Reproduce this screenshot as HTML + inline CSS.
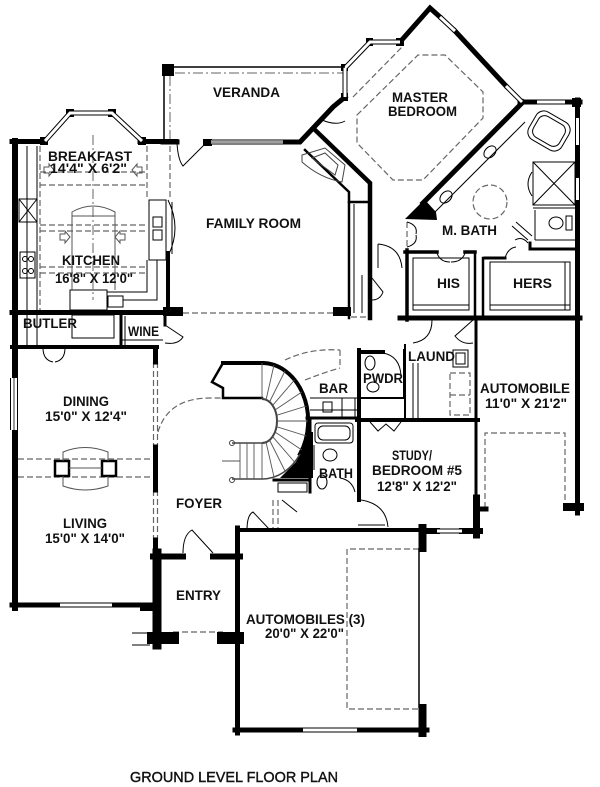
<!DOCTYPE html>
<html><head><meta charset="utf-8"><style>
html,body{margin:0;padding:0;background:#fff;}
svg{display:block}
text{font-family:"Liberation Sans",Arial,sans-serif;font-weight:bold;fill:#111;font-size:13.5px;}
</style></head><body>
<svg width="600" height="787" viewBox="0 0 600 787" xmlns="http://www.w3.org/2000/svg">
<rect width="600" height="787" fill="#fff"/>

<!-- dashed gray lines -->
<g fill="none" stroke="#666" stroke-width="1.2" stroke-dasharray="6,3">
  <path d="M40,146 V310 M147,146 V200 M170,146 V200"/>
  <path d="M40,172 H147 M40,185 H147 M40,225 H147 M40,231 H147 M40,267 H147 M40,273 H147"/>
  <path d="M183,313 H334 M351,317 H370"/>
  <path d="M357,115 L418,55 H445 L483,92 V118 L423,180 H393 L357,143 Z"/>
  <path d="M353,97 L402,47"/>
  <path d="M18,459 H153 M18,477 H153"/>
  <path d="M153.5,362 V447 M157.5,362 V447 M153.5,490 V540 M157.5,490 V540"/>
  <path d="M158,432 Q168,398 210,398 H223"/>
  <path d="M285,360 Q310,348 340,350 M305,380 Q325,372 340,368 M340,350 V368"/>
  <circle cx="490" cy="202" r="17"/>
  <path d="M173,632 H223"/>
  <path d="M419,549 H347 V709 H419"/>
  <path d="M485,508 V433 H565 V508"/>
  <path d="M450,373 H470 V415 H450 Z M450,395 H470"/>
  <path d="M273,500 V530 M278,500 V530"/>
  <path d="M407,222 V250"/>
</g>
<g fill="none" stroke="#666" stroke-width="1" stroke-dasharray="10,3,2,3">
  <path d="M170,140 V73 H343"/>
  <path d="M93,135 V300"/>
</g>

<!-- thick walls -->
<g fill="none" stroke="#000" stroke-linecap="square">
  <path d="M15,141 V608" stroke-width="6"/>
  <path d="M12,141.5 H45 M140,141.5 H176 M163,142 H177" stroke-width="5"/>
  <path d="M283,142 H300 L333,107 L345,97" stroke-width="5"/>
  <path d="M400,42 L430,8 L440,17 M455,31 L506,86" stroke-width="5"/>
  <path d="M520,102 H537 M565,102 H580" stroke-width="5"/>
  <path d="M577.5,100 V513" stroke-width="5"/>
  <path d="M313,128 L370,183 V318" stroke-width="4.5"/>
  <path d="M523,102 L423,203" stroke-width="5"/>
  <path d="M12,312.5 H170" stroke-width="5"/>
  <path d="M12,347 H157" stroke-width="4"/>
  <path d="M12,605 H155" stroke-width="5"/>
  <path d="M155.5,348 V362 M155.5,447 V490 M155.5,540 V605" stroke-width="5"/>
  <path d="M157,553 V645" stroke-width="9"/>
  <path d="M153,556.5 H183 M213,556.5 H240" stroke-width="6"/>
  <path d="M237.5,528 V733" stroke-width="5"/>
  <path d="M235,730 H427" stroke-width="5"/>
  <path d="M237,530 H423" stroke-width="4"/>
  <path d="M422.5,528 V548 M422.5,708 V733" stroke-width="8"/>
  <path d="M423,531 H437 M462,531 H480" stroke-width="6"/>
  <path d="M476.5,498 V535" stroke-width="7"/>
  <path d="M153,638 H173 M223,638 H238" stroke-width="12"/>
  <path d="M400,318 H580" stroke-width="5"/>
  <path d="M357,420 H478" stroke-width="4"/>
  <path d="M359,350 V500" stroke-width="4"/>
  <path d="M359,352 H383" stroke-width="4"/>
  <path d="M310,418 V492" stroke-width="3"/>
  <path d="M307,418 H357" stroke-width="3"/>
  <path d="M476,318 V500" stroke-width="3"/>
  <path d="M407,250 V320" stroke-width="3.5"/>
  <path d="M405,252 H437 M465,252 H475" stroke-width="3.5"/>
  <path d="M475,252 V318 M483,258 V318" stroke-width="2.5"/>
  <path d="M485,258 H505 M530,243 V249 H577" stroke-width="3"/>
  <path d="M349,202 V318" stroke-width="2.5"/>
  <path d="M305,150 L349,192 V202 H370" stroke-width="2.5"/>
  <path d="M168,253 V312" stroke-width="4"/>
  <path d="M121,313 V347 M165,313 V325" stroke-width="3"/>
  <path d="M405,345 V420" stroke-width="2"/>
  <path d="M404,350 V398 M358,398 H405" stroke-width="2"/>
  <path d="M262,363 A46,58 0 0,1 300,454" stroke-width="4"/>
  <path d="M223,363 H262" stroke-width="4"/>
  <path d="M223,363 L212,382 L223,388 V398 H262" stroke-width="2.5"/>
  <path d="M567,507 H580" stroke-width="8"/>
  <path d="M478,509 H486" stroke-width="5"/>
  <path d="M274,480 H310" stroke-width="3"/>
</g>

<!-- black posts/fills -->
<g fill="#000">
  <rect x="162" y="64" width="12" height="12"/>
  <rect x="203" y="139" width="9" height="7"/>
  <rect x="40" y="137" width="8" height="8"/>
  <rect x="138" y="137" width="8" height="8"/>
  <rect x="66" y="109" width="8" height="8"/>
  <rect x="108" y="109" width="8" height="8"/>
  <rect x="341" y="93" width="7" height="8"/>
  <rect x="341" y="64" width="7" height="7"/>
  <rect x="366" y="38" width="7" height="8"/>
  <rect x="396" y="38" width="8" height="8"/>
  <rect x="163" y="307" width="20" height="9"/>
  <rect x="333" y="307" width="18" height="9"/>
  <rect x="572" y="98" width="9" height="9"/>
  <polygon points="405,219 421,203 425,200 436,212 437,220"/>
  <polygon points="308,432 313,432 313,478 280,478 296,462"/>
  <rect x="140" y="604" width="14" height="7"/>
</g>

<!-- windows (double lines) -->
<g fill="none" stroke-linecap="butt">
  <g stroke="#000" stroke-width="5">
    <path d="M45,141 L70,113 H112 L142,141"/>
    <path d="M211,142 H283"/>
    <path d="M345,97 V68 L370,42 H400"/>
    <path d="M440,17 L455,31"/>
    <path d="M506,86 L522,102"/>
    <path d="M537,102 H565"/>
    <path d="M577.5,118 V145 M577.5,178 V200"/>
    <path d="M60,605 H112"/>
    <path d="M14,378 V430" stroke-width="8"/>
    <path d="M303,730 H357"/>
    <path d="M437,531 H462"/>
  </g>
  <g stroke="#fff" stroke-width="3">
    <path d="M45,141 L70,113 H112 L142,141"/>
    <path d="M211,142 H283"/>
    <path d="M345,97 V68 L370,42 H400"/>
    <path d="M440,17 L455,31"/>
    <path d="M506,86 L522,102"/>
    <path d="M537,102 H565"/>
    <path d="M577.5,118 V145 M577.5,178 V200"/>
    <path d="M60,605 H112"/>
    <path d="M14,378 V430" stroke-width="6"/>
    <path d="M303,730 H357"/>
    <path d="M437,531 H462"/>
  </g>
  <g stroke="#000" stroke-width="0.8">
    <path d="M14,378 V430 M211,142 H283"/>
  </g>
</g>

<!-- thin lines: veranda, fixtures, doors -->
<g fill="none" stroke="#000" stroke-width="1">
  <path d="M164,140 V67 H345" stroke-width="1.5"/>
  <!-- doors -->
  <path d="M177,143 Q178,160 183,166 L204,145"/>
  <path d="M336,106 L322,120 Q336,126 345,121"/>
  <path d="M378,244 Q400,246 402,268 M378,244 V268"/>
  <path d="M372,278 L383,292 Q380,300 372,300"/>
  <path d="M407,222 Q418,225 416,234 M407,247 Q418,244 416,235"/>
  <path d="M437,253 Q440,262 450,262 M465,253 Q462,262 451,262"/>
  <path d="M505,258 Q508,248 516,247 M528,243 Q522,236 515,240"/>
  <path d="M43,348 Q43,360 53,362 M65,348 Q65,360 55,362"/>
  <path d="M165,325 L183,337 Q178,345 165,343"/>
  <path d="M473,320 L455,336 Q462,345 473,343"/>
  <path d="M432,320 Q432,340 413,343"/>
  <path d="M383,353 Q400,356 401,376"/>
  <path d="M370,422 L378,431 L386,424 L394,431 L401,422"/>
  <path d="M361,500 Q386,504 388,527 M358,525 H385"/>
  <path d="M340,478 Q352,480 355,492"/>
  <path d="M183,553 Q183,535 192,530 L213,553"/>
  <path d="M247,530 Q247,515 253,512 L270,530"/>
  <path d="M282,500 L297,512"/>
  <path d="M532,172 Q524,184 532,196"/>
  <!-- kitchen -->
  <path d="M27,146 V345 M37,146 V345"/>
  <rect x="19" y="199" width="18" height="23"/>
  <path d="M19,199 L37,222 M37,199 L19,222"/>
  <rect x="20" y="252" width="15" height="26"/>
  <circle cx="25" cy="259" r="2.5"/><circle cx="31" cy="259" r="2.5"/>
  <circle cx="25" cy="271" r="2.5"/><circle cx="31" cy="271" r="2.5"/>
  <rect x="149" y="200" width="17" height="60"/>
  <rect x="153" y="217" width="9" height="10"/>
  <rect x="153" y="230" width="9" height="10"/>
  <path d="M147,260 V292 H107 M157,260 V300 H123"/>
  <path d="M168,200 Q182,228 168,256 M172,202 V254"/>
  <rect x="70" y="290" width="37" height="20"/>
  <rect x="108" y="296" width="15" height="11"/>
  <path d="M72,290 V212 Q93,200 115,212 V290" stroke="#555"/>
  <path d="M72,216 H115" stroke="#555"/>
  <!-- arrows -->
  <path d="M44,167 H49 V164 L54,170 L49,176 V173 H44 Z M142,167 H137 V164 L132,170 L137,176 V173 H142 Z" stroke="#555"/>
  <path d="M60,234 H65 V231 L70,237 L65,243 V240 H60 Z M125,234 H120 V231 L115,237 L120,243 V240 H125 Z" stroke="#555"/>
  <!-- butler / wine -->
  <rect x="72" y="315" width="42" height="23"/>
  <path d="M121,340 H163 M125,316 V346"/>
  <!-- dining/living fireplace -->
  <rect x="55" y="461" width="14" height="15" stroke-width="2.5"/>
  <rect x="102" y="461" width="14" height="15" stroke-width="2.5"/>
  <path d="M63,461 V452 Q85,443 108,452 V461 M63,476 V486 Q85,494 108,486 V476" stroke="#555"/>
  <path d="M69,468 H102" stroke="#555"/>
  <!-- master bath -->
  <path d="M525,122 L432,215"/>
  <ellipse cx="490" cy="152" rx="7" ry="5" transform="rotate(-45 490 152)"/>
  <ellipse cx="446" cy="197" rx="7" ry="5" transform="rotate(-45 446 197)"/>
  <rect x="530" y="115" width="38" height="32" rx="9" transform="rotate(30 549 131)"/>
  <rect x="534" y="119" width="30" height="24" rx="7" transform="rotate(30 549 131)"/>
  <rect x="533" y="162" width="42" height="43"/>
  <path d="M533,162 L575,205 M575,162 L533,205"/>
  <path d="M533,208 H575 M535,210 V240 M535,240 H575"/>
  <ellipse cx="556" cy="223" rx="7" ry="6"/>
  <rect x="566" y="216" width="6" height="14"/>
  <path d="M512,226 L528,240 M516,222 L532,236"/>
  <!-- his/hers closets -->
  <rect x="413" y="258" width="56" height="52"/>
  <rect x="490" y="262" width="80" height="48"/>
  <path d="M565,262 V310 M490,305 H570 M413,305 H469"/>
  <!-- fireplace hearth -->
  <path d="M302,155 L325,148 L345,165 L342,182 Q320,178 302,162 Z" stroke="#444"/>
  <path d="M312,158 L325,153 L338,165 L335,175 Z" stroke="#444"/>
  <path d="M354,204 V313 M362,275 V313"/>
  <!-- stair -->
  <path d="M262,399 A15,22 0 0,1 262,443" stroke="#444" stroke-width="2"/>
  <path d="M300,454 A46,58 0 0,1 262,479" stroke="#444" stroke-width="1.5"/>
  <path d="M262,443 H232 M262,479 H232" stroke="#444" stroke-width="1.5"/>
  <circle cx="232" cy="443" r="2.5" stroke="#444"/>
  <circle cx="232" cy="480" r="2.5" stroke="#444"/>
  <g stroke="#555" stroke-width="0.9">
    <path d="M262,399 L262,363 M266,400 L274,365 M269.5,402 L285,371 M272.6,405.4 L294.5,380 M275,410 L301.8,392 M276.5,415.3 L306.4,406 M277,421 L308,421 M276.5,426.7 L306.4,436 M275,432 L301.8,450 M272.6,436.6 L294.5,462 M269.5,440 L285,471 M266,442 L274,477 M262,443 L262,479"/>
    <path d="M240,443 V479 M247,443 V479 M254,443 V479 M222,461 H240"/>
  </g>
  <!-- bar -->
  <path d="M310,398 H357 M310,410 H357"/>
  <rect x="323" y="402" width="9" height="10"/>
  <rect x="342" y="398" width="13" height="19"/>
  <!-- pwdr -->
  <ellipse cx="370" cy="363" rx="5" ry="7"/>
  <ellipse cx="373" cy="387" rx="6" ry="5"/>
  <!-- bath -->
  <rect x="315" y="423" width="38" height="20" rx="3"/>
  <rect x="318" y="426" width="32" height="14" rx="5"/>
  <ellipse cx="330" cy="455" rx="7" ry="6"/>
  <ellipse cx="322" cy="482" rx="5" ry="7"/>
  <path d="M314,445 V470"/>
  <!-- laundry -->
  <path d="M413,363 V418 M418,363 V418"/>
  <rect x="453" y="350" width="15" height="17"/>
  <rect x="456" y="353" width="9" height="11"/>
  <!-- under stair closet -->
  <rect x="278" y="483" width="29" height="9"/>
  <!-- entry left bits -->
  <path d="M132,633 H150 M132,645 H150"/>
  <path d="M419,548 V708" stroke-width="1.5"/>
</g>

<!-- labels -->
<g>
  <text x="213" y="97" textLength="67" lengthAdjust="spacingAndGlyphs">VERANDA</text>
  <text x="392" y="102" textLength="56" lengthAdjust="spacingAndGlyphs">MASTER</text>
  <text x="388" y="116" textLength="69" lengthAdjust="spacingAndGlyphs">BEDROOM</text>
  <text x="48" y="161" textLength="84" lengthAdjust="spacingAndGlyphs">BREAKFAST</text>
  <text x="50" y="173" textLength="77" lengthAdjust="spacingAndGlyphs">14'4" X 6'2"</text>
  <text x="62" y="265" textLength="58" lengthAdjust="spacingAndGlyphs">KITCHEN</text>
  <text x="55" y="283" textLength="78" lengthAdjust="spacingAndGlyphs">16'8" X 12'0"</text>
  <text x="206" y="228" textLength="95" lengthAdjust="spacingAndGlyphs">FAMILY ROOM</text>
  <text x="442" y="235" textLength="55" lengthAdjust="spacingAndGlyphs">M. BATH</text>
  <text x="437" y="288" textLength="23" lengthAdjust="spacingAndGlyphs">HIS</text>
  <text x="513" y="288" textLength="39" lengthAdjust="spacingAndGlyphs">HERS</text>
  <text x="23" y="328" textLength="54" lengthAdjust="spacingAndGlyphs">BUTLER</text>
  <text x="128" y="336" textLength="31" lengthAdjust="spacingAndGlyphs">WINE</text>
  <text x="63" y="406" textLength="46" lengthAdjust="spacingAndGlyphs">DINING</text>
  <text x="45" y="421" textLength="82" lengthAdjust="spacingAndGlyphs">15'0" X 12'4"</text>
  <text x="63" y="528" textLength="44" lengthAdjust="spacingAndGlyphs">LIVING</text>
  <text x="45" y="543" textLength="80" lengthAdjust="spacingAndGlyphs">15'0" X 14'0"</text>
  <text x="176" y="508" textLength="46" lengthAdjust="spacingAndGlyphs">FOYER</text>
  <text x="176" y="600" textLength="45" lengthAdjust="spacingAndGlyphs">ENTRY</text>
  <text x="319" y="393" textLength="29" lengthAdjust="spacingAndGlyphs">BAR</text>
  <text x="363" y="383" textLength="40" lengthAdjust="spacingAndGlyphs">PWDR</text>
  <text x="408" y="361" textLength="47" lengthAdjust="spacingAndGlyphs">LAUND</text>
  <text x="480" y="393" textLength="90" lengthAdjust="spacingAndGlyphs">AUTOMOBILE</text>
  <text x="485" y="408" textLength="82" lengthAdjust="spacingAndGlyphs">11'0" X 21'2"</text>
  <text x="392" y="460" textLength="40" lengthAdjust="spacingAndGlyphs">STUDY/</text>
  <text x="372" y="475" textLength="90" lengthAdjust="spacingAndGlyphs">BEDROOM #5</text>
  <text x="377" y="491" textLength="80" lengthAdjust="spacingAndGlyphs">12'8" X 12'2"</text>
  <text x="319" y="478" textLength="34" lengthAdjust="spacingAndGlyphs">BATH</text>
  <text x="246" y="624" textLength="119" lengthAdjust="spacingAndGlyphs">AUTOMOBILES (3)</text>
  <text x="265" y="638" textLength="79" lengthAdjust="spacingAndGlyphs">20'0" X 22'0"</text>
  <text x="130" y="782" textLength="208" lengthAdjust="spacingAndGlyphs" style="font-weight:normal;font-size:15px;stroke:#111;stroke-width:0.4">GROUND  LEVEL  FLOOR  PLAN</text>
</g>
</svg>
</body></html>
